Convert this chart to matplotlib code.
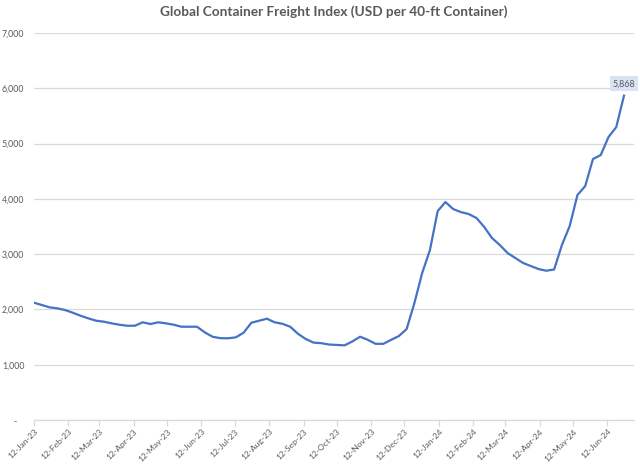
import matplotlib
matplotlib.use("Agg")
import matplotlib.pyplot as plt
import matplotlib.dates as mdates
import numpy as np
import pandas as pd

title = "Global Container Freight Index (USD per 40-ft Container)"
start_date = "2023-01-12"
values = [
    2121, 2080, 2038, 2020, 1989, 1940, 1886, 1838, 1796, 1778,
    1748, 1723, 1705, 1705, 1767, 1736, 1767, 1748, 1723, 1687,
    1687, 1687, 1585, 1506, 1480, 1478, 1495, 1579, 1760, 1796,
    1832, 1767, 1740, 1687, 1560, 1465, 1400, 1390, 1365, 1358,
    1350, 1420, 1506, 1450, 1378, 1378, 1450, 1519, 1645, 2115,
    2658, 3074, 3780, 3942, 3815, 3760, 3725, 3653, 3490, 3291,
    3165, 3020, 2930, 2840, 2785, 2730, 2700, 2723, 3165, 3508,
    4069, 4231, 4720, 4792, 5118, 5298, 5868,
]
dates = pd.date_range(start_date, periods=len(values), freq="7D")
tick_dates = pd.date_range("2023-01-01", "2024-06-01", freq="MS") + pd.Timedelta(days=11)
yticks = [0, 1000, 2000, 3000, 4000, 5000, 6000, 7000]

plt.rcParams['font.family'] = ['Lato', 'DejaVu Sans']
txt = "#595959"
grid = "#d9d9d9"

fig = plt.figure(figsize=(6.4, 4.65), dpi=100)
ax = fig.add_axes([34/640, 1-420/465, 600/640, 387/465])

ax.plot(dates, values, color="#4472C4", lw=1.6, solid_joinstyle="round")

ax.set_ylim(0, 7000)
ax.set_xlim(pd.Timestamp("2023-01-12"), pd.Timestamp("2024-07-06"))
ax.set_yticks(yticks)
ax.set_yticklabels(["-   "] + [f"{v:,}" for v in yticks[1:]])
ax.yaxis.grid(True, color=grid, lw=0.9)
ax.set_axisbelow(True)
ax.tick_params(axis="y", length=0, pad=7, labelsize=6.3, labelcolor=txt)

ax.set_xticks(tick_dates)
ax.xaxis.set_major_formatter(mdates.DateFormatter("%d-%b-%y"))
ax.tick_params(axis="x", length=4, color=grid, width=0.9, labelsize=6.1, labelcolor=txt, pad=1.5)
for lab in ax.get_xticklabels():
    lab.set_rotation(45)
    lab.set_ha("right")
    lab.set_rotation_mode("anchor")

for s in ["left", "right", "top"]:
    ax.spines[s].set_visible(False)
ax.spines["bottom"].set_color(grid)
ax.spines["bottom"].set_linewidth(0.9)

ax.set_title(title, fontsize=9.8, fontweight="bold", color=txt, pad=12)

ax.annotate(f"{values[-1]:,}", xy=(dates[-1], values[-1]), xytext=(0, 8.5),
            textcoords="offset points", ha="center", va="center",
            fontsize=6.5, color=txt,
            bbox=dict(boxstyle="square,pad=0.35", fc="#dae3f3", ec="none"))

fig.savefig("out.png", dpi=100)
